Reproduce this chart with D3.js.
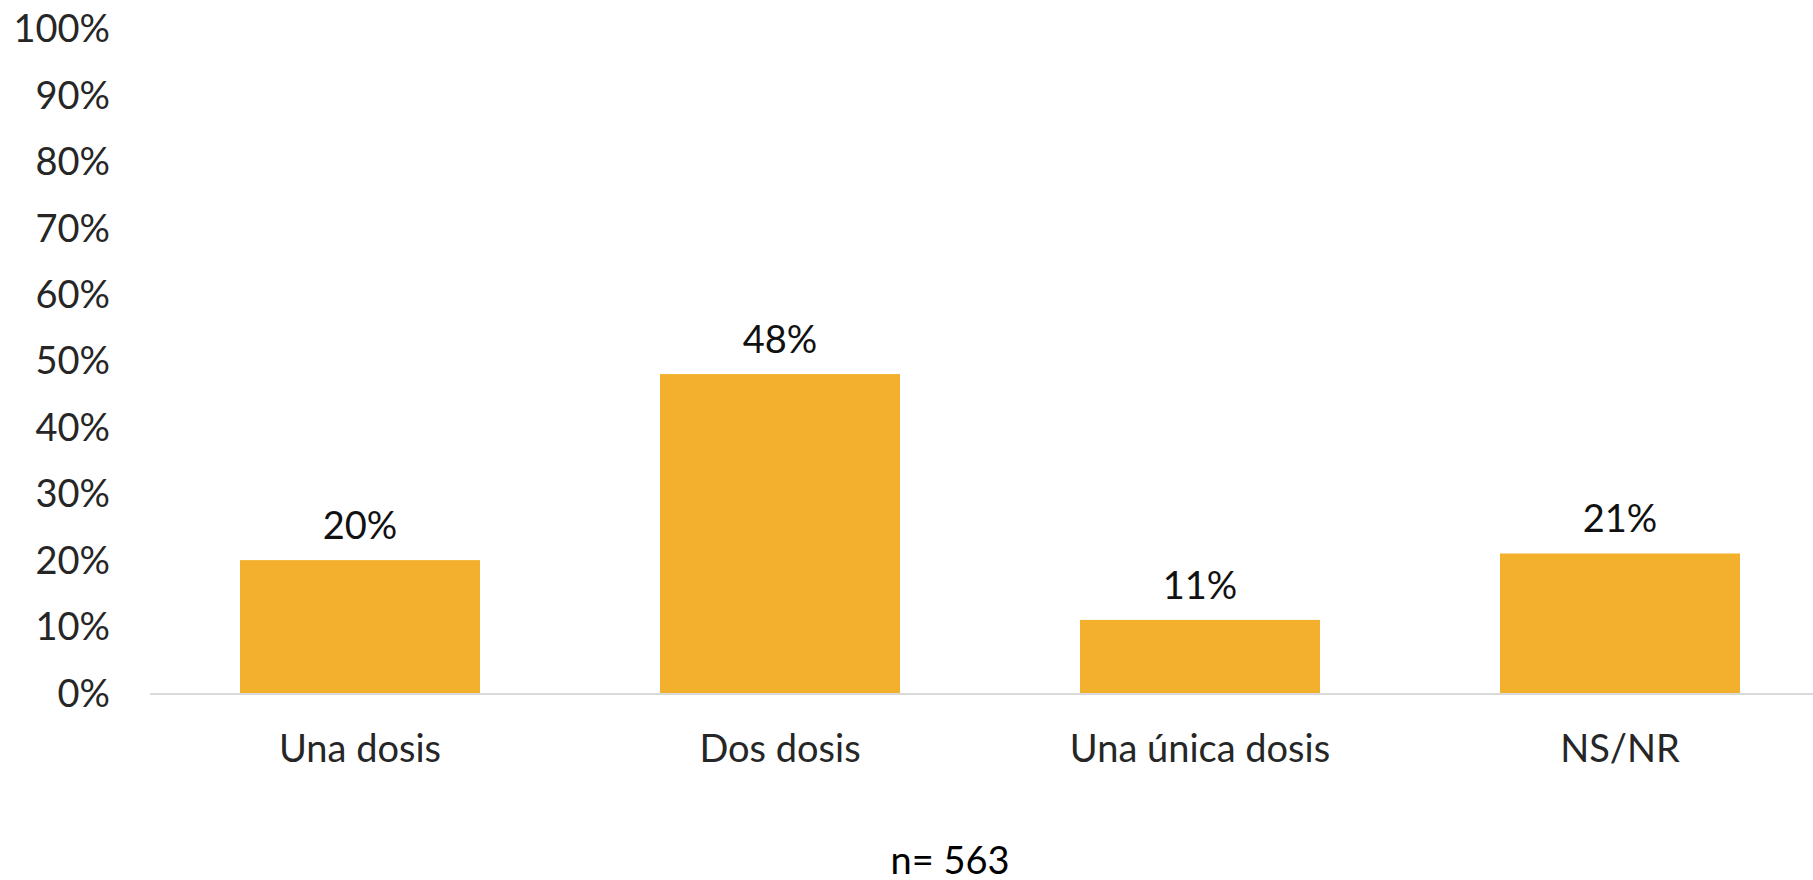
<!DOCTYPE html>
<html>
<head>
<meta charset="utf-8">
<script src="https://cdn.jsdelivr.net/npm/d3@7"></script>
<style>
  body { margin: 0; background: #fff; }
  text { font-family: Lato, "Open Sans", sans-serif; }
</style>
</head>
<body>
<div id="chart"></div>
<script>
// chart data
var categories = ["Una dosis", "Dos dosis", "Una única dosis", "NS/NR"];
var values = [0.20, 0.48, 0.11, 0.21];
var yTicks = [0, 0.1, 0.2, 0.3, 0.4, 0.5, 0.6, 0.7, 0.8, 0.9, 1];
var note = "n= 563";

var width = 1813,
    height = 880,
    axisY = 693,
    topY = 28.6;

var svg = d3.select("#chart").append("svg")
    .attr("width", width)
    .attr("height", height);

var x = d3.scaleBand()
    .domain(categories)
    .range([150, 1830])
    .paddingInner(0.4286)
    .paddingOuter(0.2143);

var y = d3.scaleLinear()
    .domain([0, 1])
    .range([axisY, topY]);

var fmt = d3.format(".0%");

// y tick labels, no axis line
svg.append("g")
    .selectAll("text")
    .data(yTicks)
    .enter().append("text")
    .attr("x", 110)
    .attr("y", function(d) { return y(d); })
    .attr("dy", "0.36em")
    .attr("text-anchor", "end")
    .style("font-size", "38px")
    .attr("fill", "#262626")
    .text(fmt);

// bars
svg.append("g")
    .selectAll("rect")
    .data(values)
    .enter().append("rect")
    .attr("x", function(d, i) { return x(categories[i]); })
    .attr("y", function(d) { return y(d); })
    .attr("width", x.bandwidth())
    .attr("height", function(d) { return axisY - y(d); })
    .attr("fill", "#F3B02D");

// baseline
svg.append("line")
    .attr("x1", 150)
    .attr("x2", width)
    .attr("y1", axisY + 1)
    .attr("y2", axisY + 1)
    .attr("stroke", "#D9D9D9")
    .attr("stroke-width", 2);

// value labels
svg.append("g")
    .selectAll("text")
    .data(values)
    .enter().append("text")
    .attr("x", function(d, i) { return x(categories[i]) + x.bandwidth() / 2; })
    .attr("y", function(d) { return y(d) - 21; })
    .attr("text-anchor", "middle")
    .style("font-size", "38px")
    .attr("fill", "#111")
    .text(fmt);

// category labels
svg.append("g")
    .selectAll("text")
    .data(categories)
    .enter().append("text")
    .attr("x", function(d) { return x(d) + x.bandwidth() / 2; })
    .attr("y", 762)
    .attr("text-anchor", "middle")
    .style("font-size", "38px")
    .attr("fill", "#262626")
    .text(function(d) { return d; });

svg.append("text")
    .attr("x", 950)
    .attr("y", 874)
    .attr("text-anchor", "middle")
    .style("font-size", "38px")
    .attr("fill", "#000")
    .text(note);
</script>
</body>
</html>
